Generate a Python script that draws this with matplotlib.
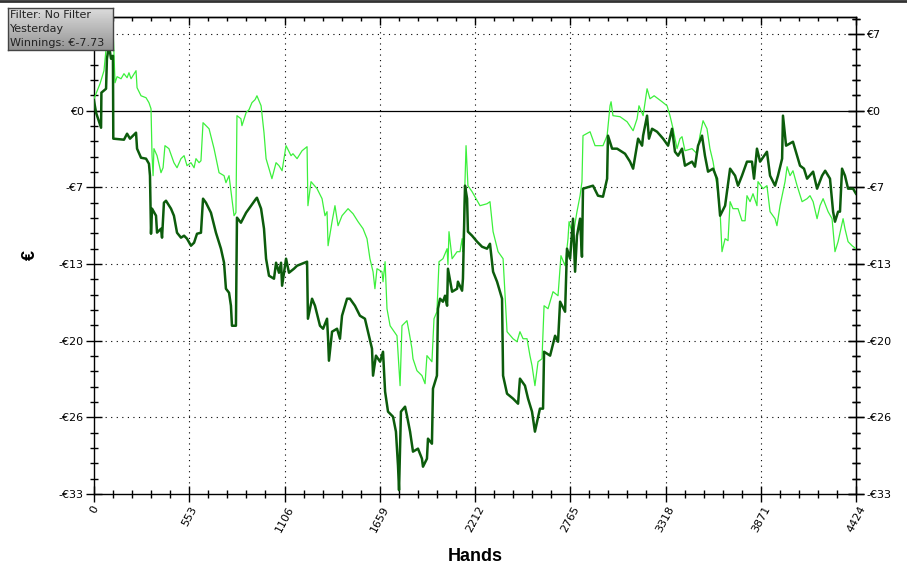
import numpy as np
import matplotlib
matplotlib.use("Agg")
import matplotlib.pyplot as plt
from matplotlib.ticker import MultipleLocator, FixedLocator

# ---- data (hands, euros) ----
dark_hands = [0, 12, 41, 43, 70, 75, 87, 99, 110, 112, 174, 192, 209, 244, 250, 273, 302, 319, 325, 331, 337, 360, 366,
              389, 395, 406, 418, 447, 464, 482, 505, 523, 540, 563, 581, 598, 621, 633, 650, 679, 708, 737, 755, 766,
              784, 795, 801, 824, 830, 853, 883, 912, 941, 946, 970, 987, 999, 1016, 1045, 1057, 1074, 1086, 1092,
              1115, 1132, 1161, 1179, 1237, 1240, 1242, 1266, 1283, 1312, 1330, 1353, 1359, 1364, 1382, 1411, 1428,
              1440, 1469, 1486, 1515, 1544, 1573, 1591, 1614, 1620, 1637, 1661, 1678, 1690, 1707, 1736, 1753, 1765,
              1771, 1782, 1806, 1817, 1835, 1852, 1881, 1904, 1910, 1933, 1939, 1962, 1968, 1991, 1997, 2009, 2026,
              2038, 2050, 2055, 2079, 2108, 2113, 2137, 2142, 2154, 2166, 2171, 2195, 2224, 2253, 2282, 2299, 2317,
              2340, 2369, 2375, 2398, 2433, 2462, 2473, 2502, 2520, 2543, 2560, 2589, 2607, 2613, 2648, 2677, 2694,
              2706, 2735, 2746, 2764, 2781, 2793, 2804, 2822, 2833, 2839, 2897, 2926, 2955, 2979, 2984, 3008, 3037,
              3083, 3112, 3130, 3159, 3182, 3188, 3211, 3222, 3240, 3269, 3304, 3333, 3356, 3373, 3391, 3414, 3431,
              3472, 3489, 3507, 3530, 3547, 3565, 3594, 3617, 3635, 3664, 3693, 3722, 3739, 3762, 3791, 3820, 3832,
              3849, 3867, 3907, 3925, 3954, 3971, 3995, 4000, 4018, 4058, 4082, 4099, 4122, 4140, 4175, 4198, 4227,
              4245, 4273, 4291, 4302, 4320, 4331, 4343, 4360, 4378, 4407, 4424]
dark_euros = [0.87, -0.17, -1.48, 1.57, 1.91, 4.52, 5.65, 4.52, 4.78, -2.43, -2.52, -2.0, -2.43, -1.91, -3.30, -4.09,
              -4.17, -4.61, -5.65, -10.70, -8.52, -9.13, -10.6, -10.26, -11.04, -8.0, -7.83, -8.52, -9.13, -10.61,
              -11.04, -10.87, -11.13, -11.74, -11.48, -10.70, -10.61, -7.65, -8.0, -8.87, -10.61, -12.0, -13.22,
              -15.48, -15.83, -16.96, -18.70, -18.70, -9.30, -9.74, -8.87, -8.26, -7.65, -7.57, -8.52, -10.26,
              -12.87, -14.35, -14.61, -13.22, -14.09, -13.22, -15.22, -12.87, -14.09, -13.74, -13.48, -13.13,
              -16.09, -18.09, -16.35, -16.96, -18.70, -18.96, -18.09, -19.83, -21.74, -19.22, -18.96, -19.83,
              -17.83, -16.35, -16.35, -16.96, -17.83, -18.09, -19.22, -20.70, -23.04, -21.30, -21.83, -20.96,
              -24.43, -26.17, -26.61, -27.91, -30.87, -33.0, -26.17, -25.74, -26.52, -27.91, -29.65, -29.39,
              -30.26, -30.96, -30.26, -28.52, -28.96, -24.17, -23.04, -17.22, -16.35, -16.61, -16.09, -16.96,
              -13.74, -15.74, -15.48, -14.87, -15.65, -14.61, -6.52, -7.65, -10.52, -10.87, -11.39, -11.83, -12.0,
              -11.57, -14.0, -14.87, -16.35, -23.04, -24.61, -25.04, -25.48, -23.30, -23.91, -25.04, -26.17,
              -27.91, -25.91, -25.91, -20.96, -21.30, -19.57, -20.09, -16.61, -17.48, -12.0, -12.87, -9.39, -14.0,
              -10.87, -9.39, -12.70, -6.78, -6.52, -7.39, -7.48, -5.91, -2.17, -3.30, -3.30, -3.74, -4.43, -5.04,
              -2.43, -3.04, -2.17, -0.43, -2.43, -1.57, -1.83, -2.43, -3.04, -1.57, -3.57, -3.91, -3.30, -4.78,
              -4.43, -4.87, -3.04, -2.17, -3.91, -5.30, -5.04, -5.91, -9.13, -8.26, -5.04, -5.65, -6.52, -5.65,
              -4.43, -4.43, -5.91, -3.30, -4.43, -3.57, -5.65, -6.52, -5.65, -4.17, -0.43, -3.04, -2.70, -3.91,
              -4.78, -5.04, -5.91, -5.30, -6.78, -5.65, -5.22, -5.91, -8.78, -9.65, -8.78, -8.78, -5.04, -5.65,
              -6.78, -6.78, -7.22]

light_hands = [0, 35, 58, 70, 87, 99, 110, 122, 134, 157, 174, 192, 203, 215, 244, 250, 273, 302, 319, 331, 337, 343,
               348, 366, 389, 401, 412, 435, 464, 482, 505, 523, 540, 563, 581, 592, 610, 621, 633, 668, 697, 726,
               755, 766, 784, 795, 813, 824, 830, 853, 859, 883, 900, 917, 935, 946, 970, 987, 999, 1016, 1033,
               1057, 1074, 1092, 1115, 1144, 1155, 1179, 1208, 1237, 1242, 1260, 1295, 1324, 1341, 1353, 1359,
               1382, 1399, 1417, 1440, 1475, 1504, 1533, 1562, 1585, 1602, 1620, 1631, 1643, 1672, 1678, 1690,
               1701, 1719, 1759, 1777, 1788, 1817, 1829, 1846, 1852, 1875, 1904, 1922, 1933, 1962, 1974, 1991,
               2003, 2026, 2050, 2055, 2061, 2079, 2108, 2125, 2137, 2142, 2160, 2171, 2195, 2241, 2282, 2299,
               2317, 2346, 2375, 2398, 2433, 2456, 2473, 2491, 2514, 2531, 2543, 2560, 2578, 2601, 2613, 2636,
               2665, 2694, 2711, 2735, 2752, 2758, 2781, 2804, 2822, 2833, 2839, 2880, 2909, 2955, 2979, 2996,
               3002, 3013, 3054, 3095, 3130, 3153, 3164, 3188, 3211, 3228, 3252, 3298, 3327, 3344, 3362, 3385,
               3402, 3414, 3431, 3472, 3501, 3518, 3536, 3559, 3576, 3594, 3617, 3635, 3646, 3664, 3681, 3693,
               3710, 3739, 3762, 3780, 3791, 3809, 3826, 3849, 3855, 3884, 3907, 3925, 3954, 3965, 3983, 4012,
               4024, 4041, 4058, 4082, 4111, 4140, 4157, 4175, 4198, 4215, 4233, 4262, 4285, 4302, 4320, 4349,
               4360, 4378, 4401, 4424]
light_euros = [1.04, 2.35, 3.48, 5.39, 6.52, 5.83, 7.39, 2.43, 2.96, 2.78, 3.22, 2.87, 3.30, 2.78, 3.48, 2.0, 1.30,
               1.13, 0.70, 0.17, -3.91, -5.65, -3.30, -3.91, -5.39, -4.96, -3.04, -3.30, -4.52, -4.96, -4.17, -3.91,
               -4.78, -4.52, -4.96, -4.17, -4.52, -4.35, -1.04, -1.57, -3.30, -5.39, -5.65, -6.26, -5.65, -6.96,
               -9.13, -8.87, -0.43, -0.70, -1.30, -0.17, 0.09, 0.70, 0.96, 1.30, 0.43, -1.91, -4.17, -5.04, -5.91,
               -4.52, -4.78, -5.22, -3.04, -3.91, -3.74, -4.17, -3.48, -3.13, -8.26, -6.17, -6.78, -7.65, -9.13,
               -8.78, -11.74, -9.65, -8.26, -10.0, -9.13, -8.52, -8.96, -9.65, -10.26, -11.13, -12.87, -14.0,
               -15.48, -13.74, -14.0, -14.87, -13.13, -17.22, -18.70, -19.57, -23.91, -18.70, -18.26, -19.22,
               -20.70, -21.57, -22.61, -23.04, -23.74, -21.30, -21.83, -18.09, -17.48, -13.13, -12.87, -12.0,
               -13.39, -10.52, -12.87, -12.26, -12.26, -11.13, -12.26, -3.04, -6.52, -7.04, -8.26, -8.09, -7.91,
               -10.52, -12.26, -12.87, -19.22, -19.83, -20.09, -19.22, -19.83, -19.83, -21.30, -22.17, -23.91,
               -21.83, -21.57, -16.96, -17.22, -15.74, -16.09, -12.61, -13.48, -11.13, -9.65, -10.87, -8.78, -7.39,
               -6.17, -2.17, -1.83, -3.04, -3.04, -2.17, 0.43, 0.78, -0.43, -0.52, -0.96, -1.74, -0.70, 0.43,
               -0.43, 1.91, 1.04, 1.30, 0.78, 0.43, -0.43, -1.57, -3.30, -2.43, -2.26, -3.48, -3.30, -3.74, -2.17,
               -0.87, -1.57, -3.30, -4.43, -6.52, -8.78, -12.26, -11.13, -11.30, -7.91, -8.52, -8.52, -9.57, -9.57,
               -7.39, -7.91, -7.22, -8.26, -6.17, -6.78, -6.52, -8.78, -9.39, -10.0, -8.26, -6.17, -4.87, -5.65,
               -5.22, -6.52, -7.91, -7.65, -7.39, -7.91, -9.39, -8.26, -7.65, -8.78, -9.39, -12.26, -11.39, -9.39,
               -10.26, -11.39, -11.74, -12.0]

x_ticks = [0, 553, 1106, 1659, 2212, 2765, 3318, 3871, 4424]
y_ticks = [20 / 3 * k for k in range(-5, 2)]
y_labels = ["-€33", "-€26", "-€20", "-€13", "-€7", "€0", "€7"]
legend_lines = ["Filter: No Filter", "Yesterday", "Winnings: €-7.73"]

W, H = 907, 570
fig = plt.figure(figsize=(W / 100, H / 100), dpi=100)
fig.patch.set_facecolor("white")
ax = fig.add_axes([94 / W, 1 - 494 / H, (856 - 94) / W, (494 - 17) / H])

ax.set_xlim(0, 4424)
ax.set_ylim(-33.33, 8.15)

# grid
for xt in x_ticks[1:-1]:
    ax.axvline(xt, color="black", lw=0.8, ls=(0, (1, 4)), zorder=1)
for yt in y_ticks:
    if abs(yt) > 1e-6 and yt > -33:
        ax.axhline(yt, color="black", lw=0.8, ls=(0, (1, 4)), zorder=1)
ax.axhline(0, color="black", lw=0.9, zorder=2)

ax.plot(light_hands, light_euros, color="#3cf03c", lw=0.9, zorder=3)
ax.plot(dark_hands, dark_euros, color="#0c5c0c", lw=1.8, zorder=4)

for s in ["left", "right", "bottom", "top"]:
    ax.spines[s].set_linewidth(1.0)
    ax.spines[s].set_color("black")

ax.set_xticks(x_ticks)
ax.xaxis.set_minor_locator(MultipleLocator(553 / 5))
ax.set_xticklabels([str(v) for v in x_ticks], rotation=62, ha="center", va="top", fontsize=8)
ax.tick_params(axis="x", which="major", direction="inout", length=11, width=1, top=False, pad=2)
ax.tick_params(axis="x", which="minor", direction="inout", length=6, width=1, top=False)

ax.set_yticks(y_ticks)
ax.yaxis.set_minor_locator(MultipleLocator(20 / 3 / 5))
ax.set_yticklabels(y_labels[:-1] + [""], fontsize=8)
ax.tick_params(axis="y", which="major", direction="inout", length=11, width=1, right=True,
               labelright=False, pad=2)
ax.tick_params(axis="y", which="minor", direction="inout", length=6, width=1, right=True)

# right-side labels (full set)
rax = ax.secondary_yaxis("right")
rax.set_yticks(y_ticks)
rax.set_yticklabels(y_labels, fontsize=8)
rax.yaxis.set_minor_locator(MultipleLocator(20 / 3 / 5))
rax.tick_params(axis="y", which="major", direction="inout", length=11, width=1, pad=2)
rax.tick_params(axis="y", which="minor", direction="inout", length=6, width=1)

# top ticks pointing inward
sec = ax.secondary_xaxis("top")
sec.set_xticks(x_ticks)
sec.xaxis.set_minor_locator(MultipleLocator(553 / 5))
sec.tick_params(axis="x", which="major", direction="in", length=6, width=1, labeltop=False)
sec.tick_params(axis="x", which="minor", direction="in", length=3, width=1)
sec.spines["top"].set_linewidth(1.0)

ax.set_xlabel("Hands", fontsize=13, fontweight="bold", family="Liberation Sans", labelpad=10)
ax.set_ylabel("€", fontsize=13, fontweight="bold", family="Liberation Sans", labelpad=14)

# top border of the window
fig.add_artist(plt.Line2D([0, 1], [1 - 1 / H, 1 - 1 / H], color="#333333", lw=2.0, transform=fig.transFigure))

# info box with gradient
bax = fig.add_axes([8 / W, 1 - 50 / H, 105 / W, 42 / H])
grad = np.linspace(0.86, 0.58, 64).reshape(-1, 1)
bax.imshow(grad, cmap="gray", vmin=0, vmax=1, aspect="auto", extent=[0, 1, 0, 1], zorder=0)
bax.set_xlim(0, 1)
bax.set_ylim(0, 1)
bax.set_xticks([])
bax.set_yticks([])
for s in bax.spines.values():
    s.set_color("#444444")
    s.set_linewidth(1.0)
for i, t in enumerate(legend_lines):
    bax.text(0.02, 0.83 - i * 0.33, t, fontsize=8, color="#222222", va="center", ha="left",
             transform=bax.transAxes)

fig.savefig("out.png", dpi=100)
